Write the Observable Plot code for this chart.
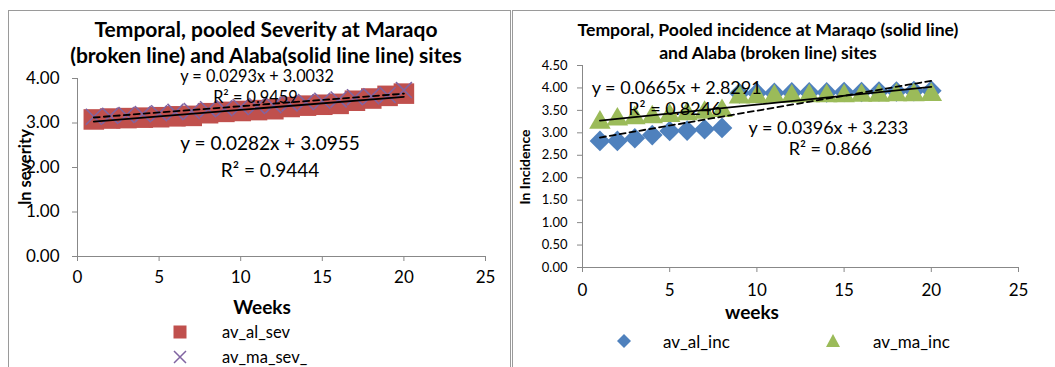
<!DOCTYPE html>
<html><head><meta charset="utf-8">
<script src="https://cdn.jsdelivr.net/npm/d3@7"></script>
<script src="https://cdn.jsdelivr.net/npm/@observablehq/plot@0.6"></script>
<style>
body{margin:0;background:#fff;font-family:Lato,"Open Sans",sans-serif;}
#wrap{position:relative;width:1055px;height:367px;overflow:hidden;background:#fff;}
.box{position:absolute;border:1px solid #9a9a9a;box-sizing:border-box;}
.panel{position:absolute;top:0;}
.t{position:absolute;white-space:nowrap;color:#000;line-height:1;}
</style></head>
<body><div id="wrap">
<div class="box" style="left:8px;top:10px;width:503px;height:380px;"></div>
<div class="box" style="left:512px;top:10px;width:560px;height:380px;"></div>
<div id="p1" class="panel" style="left:0;width:510px;"></div>
<div id="p2" class="panel" style="left:511px;width:544px;"></div>
</div>
<script>
// ---- data ----
const weeks = [1,2,3,4,5,6,7,8,9,10,11,12,13,14,15,16,17,18,19,20];
const avAlSev = [3.08,3.10,3.11,3.12,3.13,3.15,3.16,3.22,3.25,3.27,3.29,3.31,3.36,3.39,3.41,3.43,3.50,3.55,3.61,3.66];
const avMaSev = [3.14,3.16,3.18,3.20,3.22,3.25,3.27,3.31,3.33,3.36,3.38,3.40,3.44,3.47,3.50,3.53,3.58,3.60,3.63,3.74];
const avAlInc = [2.82,2.82,2.88,2.95,3.04,3.05,3.08,3.11,3.88,3.89,3.89,3.90,3.90,3.90,3.91,3.91,3.92,3.92,3.93,3.94];
const avMaInc = [3.23,3.30,3.33,3.35,3.38,3.42,3.45,3.49,3.79,3.80,3.81,3.81,3.82,3.82,3.82,3.83,3.83,3.84,3.84,3.85];
// trendline coefficients [slope, intercept]
const sevSolid = [0.0293, 3.0032];   // Alaba (solid)
const sevDashed = [0.0282, 3.0955];  // Maraqo (broken)
const incDashed = [0.0665, 2.8291];  // Alaba (broken)
const incSolid = [0.0396, 3.233];    // Maraqo (solid)
const sevTicksY = [0,1,2,3,4];
const incTicksY = [0,0.5,1,1.5,2,2.5,3,3.5,4,4.5];
const ticksX = [0,5,10,15,20,25];
const sevLabels = [
  {x:11.0, y:4.03, text:"y = 0.0293x + 3.0032", size:16.3},
  {x:10.9, y:3.56, text:"R² = 0.9459", size:16.3},
  {x:11.8, y:2.54, text:"y = 0.0282x + 3.0955", size:19},
  {x:11.8, y:1.93, text:"R² = 0.9444", size:19}
];
const incLabels = [
  {x:5.4, y:4.0, text:"y = 0.0665x + 2.8291"},
  {x:5.3, y:3.53, text:"R² = 0.8246"},
  {x:14.1, y:3.11, text:"y = 0.0396x + 3.233"},
  {x:14.2, y:2.64, text:"R² = 0.866"}
];

const pts = (ys) => weeks.map((w,i)=>({x:w, y:ys[i]}));
const fit = ([m,b]) => [1,20].map(x=>({x, y:m*x+b}));
const FONT = "Lato, 'Open Sans', sans-serif";

// ---- left chart ----
const p1 = Plot.plot({
  width:510, height:367,
  marginLeft:77, marginRight:25, marginTop:78, marginBottom:111,
  x:{domain:[0,25]}, y:{domain:[0,4]},
  style:{fontFamily:FONT, background:"transparent", overflow:"visible"},
  marks:[
    Plot.axisX({ticks:ticksX, tickSize:5, tickPadding:9, stroke:"#888", fontSize:17, label:null}),
    Plot.axisY({ticks:sevTicksY, tickSize:5, tickPadding:13, stroke:"#888", fontSize:17, tickFormat:d3.format(".2f"), label:null}),
    Plot.ruleX([0], {stroke:"#888"}),
    Plot.ruleY([0], {stroke:"#888"}),
    Plot.dot(pts(avAlSev), {x:"x", y:"y", symbol:"square", r:11.6, fill:"#C0504D", stroke:"none"}),
    Plot.dot(pts(avMaSev), {x:"x", y:"y", symbol:"times", r:7.3, stroke:"#8064A2", strokeWidth:1.6}),
    Plot.line(fit(sevSolid), {x:"x", y:"y", stroke:"#000", strokeWidth:1.8}),
    Plot.line(fit(sevDashed), {x:"x", y:"y", stroke:"#000", strokeWidth:1.8, strokeDasharray:"6,4"}),
    Plot.text(sevLabels, {x:"x", y:"y", text:"text", fontSize:d=>d.size, fill:"#000"})
  ]
});
document.getElementById("p1").appendChild(p1);

// ---- right chart ----
const p2 = Plot.plot({
  width:544, height:367,
  marginLeft:71, marginRight:37, marginTop:65, marginBottom:100,
  x:{domain:[0,25]}, y:{domain:[0,4.5]},
  style:{fontFamily:FONT, background:"transparent", overflow:"visible"},
  marks:[
    Plot.axisX({ticks:ticksX, tickSize:5, tickPadding:11, stroke:"#888", fontSize:17, label:null}),
    Plot.axisY({ticks:incTicksY, tickSize:5, tickPadding:10, stroke:"#888", fontSize:13, tickFormat:d3.format(".2f"), label:null}),
    Plot.ruleX([0], {stroke:"#888"}),
    Plot.ruleY([0], {stroke:"#888"}),
    Plot.dot(pts(avAlInc), {x:"x", y:"y", symbol:"diamond2", r:9.3, fill:"#4F81BD", stroke:"none"}),
    Plot.dot(pts(avMaInc), {x:"x", y:"y", symbol:"triangle", r:8, fill:"#9BBB59", stroke:"none"}),
    Plot.line(fit(incSolid), {x:"x", y:"y", stroke:"#000", strokeWidth:1.8}),
    Plot.line(fit(incDashed), {x:"x", y:"y", stroke:"#000", strokeWidth:1.8, strokeDasharray:"6,4"}),
    Plot.text(incLabels, {x:"x", y:"y", text:"text", fontSize:18, fill:"#000"})
  ]
});
document.getElementById("p2").appendChild(p2);

// ---- HTML text (titles, axis labels, legends) ----
const wrap = document.getElementById("wrap");
function add(html, style){
  const d=document.createElement("div"); d.className="t"; d.innerHTML=html; d.setAttribute("style",style); wrap.appendChild(d); return d;
}
const C = "transform:translate(-50%,-50%);";
add("Temporal, pooled Severity at Maraqo", `left:266px;top:28px;${C}font-size:21px;font-weight:bold;`);
add("(broken line) and Alaba(solid line line) sites", `left:266px;top:54px;${C}font-size:21px;font-weight:bold;`);
add("Temporal, Pooled incidence at Maraqo (solid line)", `left:768px;top:30px;${C}font-size:17.6px;font-weight:bold;`);
add("and Alaba (broken line) sites", `left:768px;top:53px;${C}font-size:17.6px;font-weight:bold;`);
add("Weeks", `left:262px;top:306px;${C}font-size:19px;font-weight:bold;`);
add("weeks", `left:752px;top:311px;${C}font-size:19px;font-weight:bold;`);
add("ln severity", `left:25px;top:167px;${C.replace(")",") rotate(-90deg)")}font-size:16.5px;font-weight:bold;`.replace("translate(-50%,-50%) rotate(-90deg);","translate(-50%,-50%) rotate(-90deg);"));
add("In Incidence", `left:525px;top:167px;transform:translate(-50%,-50%) rotate(-90deg);font-size:14px;font-weight:bold;`);
// legends
add('<svg width="16" height="16"><rect x="1.5" y="1.5" width="13" height="13" fill="#C0504D"/></svg>',"left:172px;top:324px;");
add("av_al_sev",`left:222px;top:332px;transform:translateY(-50%);font-size:16.5px;`);
add('<svg width="16" height="16"><path d="M2,2L14,14M14,2L2,14" stroke="#8064A2" stroke-width="1.5"/></svg>',"left:172px;top:349px;");
add("av_ma_sev_",`left:222px;top:357px;transform:translateY(-50%);font-size:16.5px;`);
add('<svg width="16" height="16"><path d="M8,1L15,8L8,15L1,8Z" fill="#4F81BD"/></svg>',"left:616px;top:333px;");
add("av_al_inc",`left:663px;top:341px;transform:translateY(-50%);font-size:17px;`);
add('<svg width="16" height="16"><path d="M8,1L15,14L1,14Z" fill="#9BBB59"/></svg>',"left:825px;top:333px;");
add("av_ma_inc",`left:873px;top:341px;transform:translateY(-50%);font-size:17px;`);
</script>
</body></html>
